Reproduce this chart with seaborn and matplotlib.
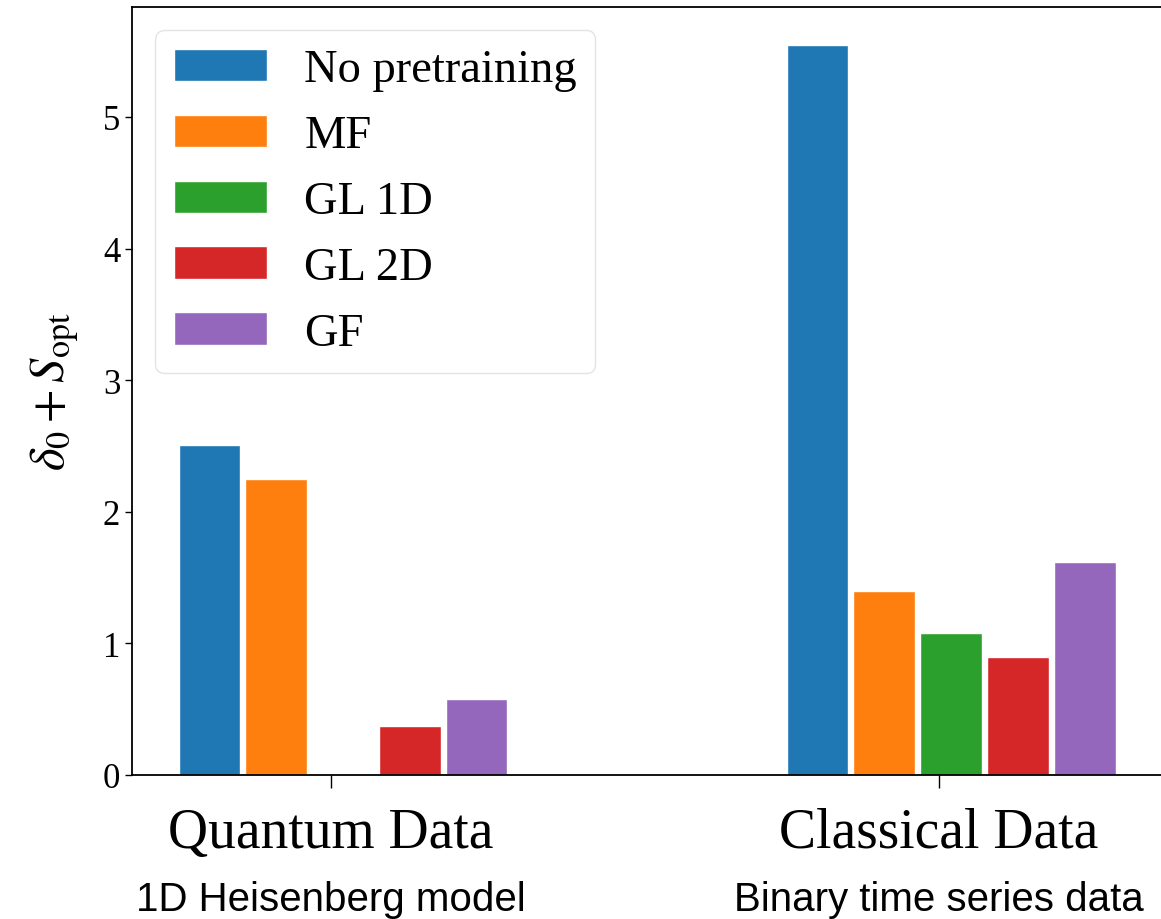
import numpy as np
import pandas as pd
import matplotlib
matplotlib.use("Agg")
import matplotlib.pyplot as plt
import seaborn as sns

# Values
datasets = ["Quantum Data", "Classical Data"]
subtitles = ["1D Heisenberg model", "Binary time series data"]
methods = ["No pretraining", "MF", "GL 1D", "GL 2D", "GF"]
quantum_vals = [2.51, 2.25, np.nan, 0.37, 0.58]
classical_vals = [5.55, 1.40, 1.08, 0.90, 1.62]
colors = ["#1f77b4", "#ff7f0e", "#2ca02c", "#d62728", "#9467bd"]

df = pd.DataFrame({
    "dataset": [datasets[0]] * len(methods) + [datasets[1]] * len(methods),
    "method": methods + methods,
    "value": quantum_vals + classical_vals,
})

sns.set_style("ticks")
plt.rcParams["font.family"] = "serif"
plt.rcParams["font.serif"] = ["Liberation Serif", "DejaVu Serif"]
plt.rcParams["mathtext.fontset"] = "stix"
plt.rcParams["text.color"] = "black"
plt.rcParams["axes.labelcolor"] = "black"

fig = plt.figure(figsize=(11.61, 9.2), dpi=100)
ax = fig.add_axes([132 / 1161, 1 - 776 / 920, 1038 / 1161, 768 / 920])

sns.barplot(data=df, x="dataset", y="value", hue="method", order=datasets,
            hue_order=methods, palette=colors, width=0.549, gap=0.075,
            saturation=1, ax=ax)

ax.set_xlim(-0.347, 1.36)
ax.set_ylim(0, 5.835)
ax.set_yticks(range(6))
ax.tick_params(axis="y", labelsize=25, length=5, width=1, colors="black")
ax.tick_params(axis="x", labelsize=40, length=9, width=1, pad=14, colors="black")
ax.set_xticks(np.arange(len(datasets)) - 0.02, datasets)
ax.set_xlabel("")
ax.set_ylabel(r"$\delta_0 + S_{\rm opt}$", fontsize=35, labelpad=16)
for s in ax.spines.values():
    s.set_color("black")
    s.set_linewidth(1.3)

leg = ax.legend(loc="upper left", fontsize=33.5, frameon=True, fancybox=True,
                framealpha=0.8, edgecolor="#dddddd", borderaxespad=0.5)
leg.get_frame().set_linewidth(1)

for i, sub in enumerate(subtitles):
    ax.text(i - 0.02, -0.162, sub, transform=ax.get_xaxis_transform(),
            ha="center", va="center", fontsize=29, family="Liberation Sans")

fig.savefig("out.png", dpi=100)
